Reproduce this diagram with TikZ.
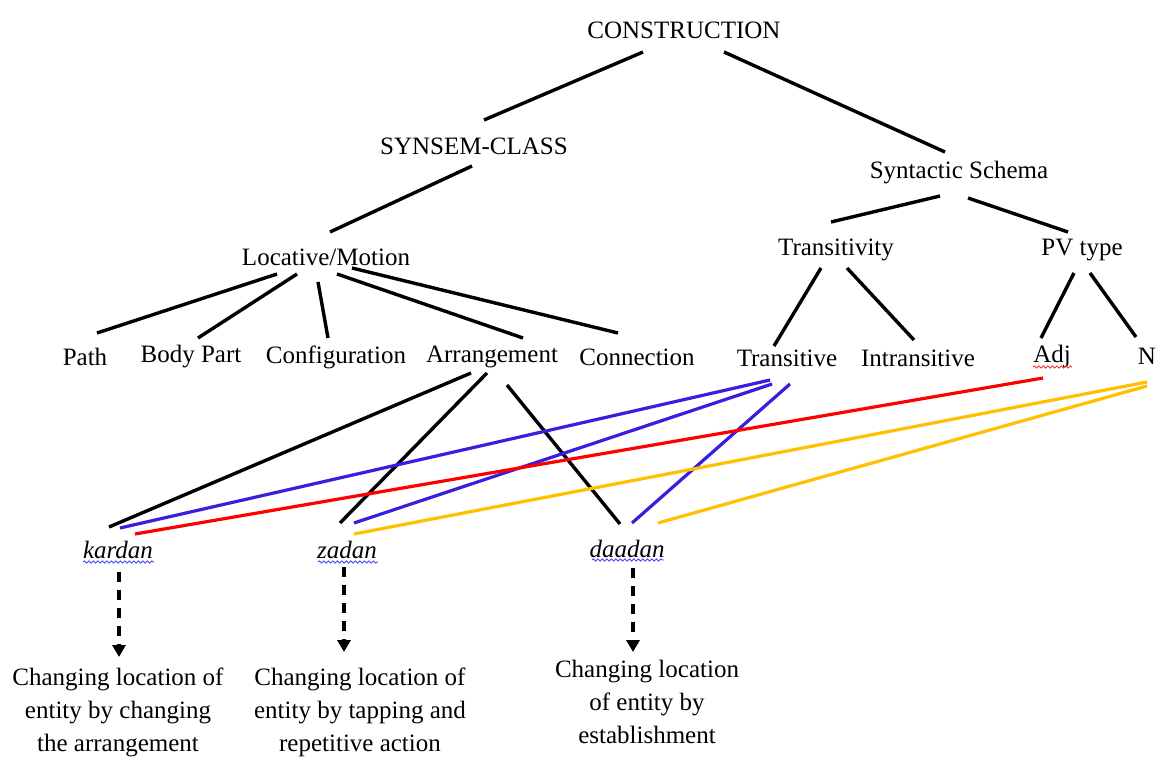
\documentclass[tikz,border=0pt]{standalone}
\usepackage{fontspec}
\setmainfont{Liberation Serif}
\usetikzlibrary{arrows.meta,decorations.pathmorphing}
\definecolor{tblue}{HTML}{3A1EE0}
\definecolor{tred}{HTML}{FF0000}
\definecolor{tyel}{HTML}{FFC000}
\definecolor{wblue}{HTML}{4646FF}
\definecolor{wred}{HTML}{FF3030}
\begin{document}
\begin{tikzpicture}[x=1pt,y=-1pt,
  lbl/.style={inner sep=0pt, font=\fontsize{25}{33}\selectfont},
  verb/.style={lbl, font=\fontsize{25}{33}\selectfont\itshape},
  desc/.style={lbl, align=center},
  edge/.style={line width=3.4pt, black},
  bedge/.style={line width=3.2pt, tblue},
  redge/.style={line width=3.2pt, tred},
  yedge/.style={line width=3.2pt, tyel},
  wavy/.style={line width=0.9pt, decorate, decoration={snake, amplitude=1.1pt, segment length=4.5pt}},
  darrow/.style={line width=3.6pt, dash pattern=on 10pt off 8pt, -{Triangle[width=13pt,length=12pt]}}
]
\useasboundingbox (0,0) rectangle (1157,758);
\fill[white] (0,0) rectangle (1157,758);

% nodes
\node[lbl] (cons) at (684,30) {CONSTRUCTION};
\node[lbl] (syns) at (474,146) {SYNSEM-CLASS};
\node[lbl] (schema) at (959,173) {Syntactic Schema};
\node[lbl] (loc) at (326,257) {Locative/Motion};
\node[lbl] (trty) at (836,250) {Transitivity};
\node[lbl] (pv) at (1082,250) {PV type};
\node[lbl] (path) at (85,357) {Path};
\node[lbl] (body) at (191,357) {Body Part};
\node[lbl] (conf) at (336,357) {Configuration};
\node[lbl] (arr) at (492,357) {Arrangement};
\node[lbl] (conn) at (637,357) {Connection};
\node[lbl] (tr) at (787,358) {Transitive};
\node[lbl] (intr) at (918,358) {Intransitive};
\node[lbl] (adj) at (1052,356) {Adj};
\node[lbl] (n) at (1147,356) {N};
\node[verb] (kardan) at (118,550) {kardan};
\node[verb] (zadan) at (347,550) {zadan};
\node[verb] (daadan) at (627,549) {daadan};
\node[desc] (d1) at (118,712) {Changing location of\\entity by changing\\the arrangement};
\node[desc] (d2) at (360,712) {Changing location of\\entity by tapping and\\repetitive action};
\node[desc] (d3) at (647,702) {Changing location\\of entity by\\establishment};

% wavy underlines
\draw[wavy, wblue] ([shift={(-35,12)}]kardan.center) -- ([shift={(36,12)}]kardan.center);
\draw[wavy, wblue] ([shift={(-29,12)}]zadan.center) -- ([shift={(31,12)}]zadan.center);
\draw[wavy, wblue] ([shift={(-35,11)}]daadan.center) -- ([shift={(37,11)}]daadan.center);
\draw[wavy, wred] ([shift={(-19,11)}]adj.center) -- ([shift={(20,11)}]adj.center);

% tree edges
\draw[edge] ([shift={(-41,22)}]cons.center) -- ([shift={(10,-26)}]syns.center);
\draw[edge] ([shift={(40,22)}]cons.center) -- ([shift={(-14,-21)}]schema.center);
\draw[edge] ([shift={(-2,20)}]syns.center) -- ([shift={(4,-25)}]loc.center);
\draw[edge] ([shift={(-19,23)}]schema.center) -- ([shift={(-5,-28)}]trty.center);
\draw[edge] ([shift={(9,25)}]schema.center) -- ([shift={(-14,-18)}]pv.center);
\draw[edge] ([shift={(-15,18)}]trty.center) -- ([shift={(-13,-12)}]tr.center);
\draw[edge] ([shift={(11,18)}]trty.center) -- ([shift={(-4,-18)}]intr.center);
\draw[edge] ([shift={(-8,23)}]pv.center) -- ([shift={(-11,-18)}]adj.center);
\draw[edge] ([shift={(8,23)}]pv.center) -- ([shift={(-11,-19)}]n.center);
\draw[edge] ([shift={(-49,17)}]loc.center) -- ([shift={(12,-24)}]path.center);
\draw[edge] ([shift={(-29,17)}]loc.center) -- ([shift={(7,-19)}]body.center);
\draw[edge] ([shift={(-8,25)}]loc.center) -- ([shift={(-8,-19)}]conf.center);
\draw[edge] ([shift={(11,17)}]loc.center) -- ([shift={(31,-19)}]arr.center);
\draw[edge] ([shift={(26,11)}]loc.center) -- ([shift={(-19,-24)}]conn.center);

% arrangement to verbs
\draw[edge] ([shift={(-21,16)}]arr.center) -- ([shift={(-9,-23)}]kardan.center);
\draw[edge] ([shift={(-5,16)}]arr.center) -- ([shift={(-7,-27)}]zadan.center);
\draw[edge] ([shift={(15,28)}]arr.center) -- ([shift={(-7,-25)}]daadan.center);

% transitive (blue)
\draw[bedge] ([shift={(-17,22)}]tr.center) -- ([shift={(2,-22)}]kardan.center);
\draw[bedge] ([shift={(-15,26)}]tr.center) -- ([shift={(7,-27)}]zadan.center);
\draw[bedge] ([shift={(3,26)}]tr.center) -- ([shift={(5,-26)}]daadan.center);

% adj (red)
\draw[redge] ([shift={(-9,22)}]adj.center) -- ([shift={(17,-16)}]kardan.center);

% N (yellow)
\draw[yedge] ([shift={(0,26)}]n.center) -- ([shift={(7,-16)}]zadan.center);
\draw[yedge] ([shift={(0,30)}]n.center) -- ([shift={(31,-26)}]daadan.center);

% dashed arrows
\draw[darrow] ([shift={(1,22)}]kardan.center) -- ([shift={(1,107)}]kardan.center);
\draw[darrow] ([shift={(-3,17)}]zadan.center) -- ([shift={(-3,102)}]zadan.center);
\draw[darrow] ([shift={(6,19)}]daadan.center) -- ([shift={(6,103)}]daadan.center);
\end{tikzpicture}
\end{document}
